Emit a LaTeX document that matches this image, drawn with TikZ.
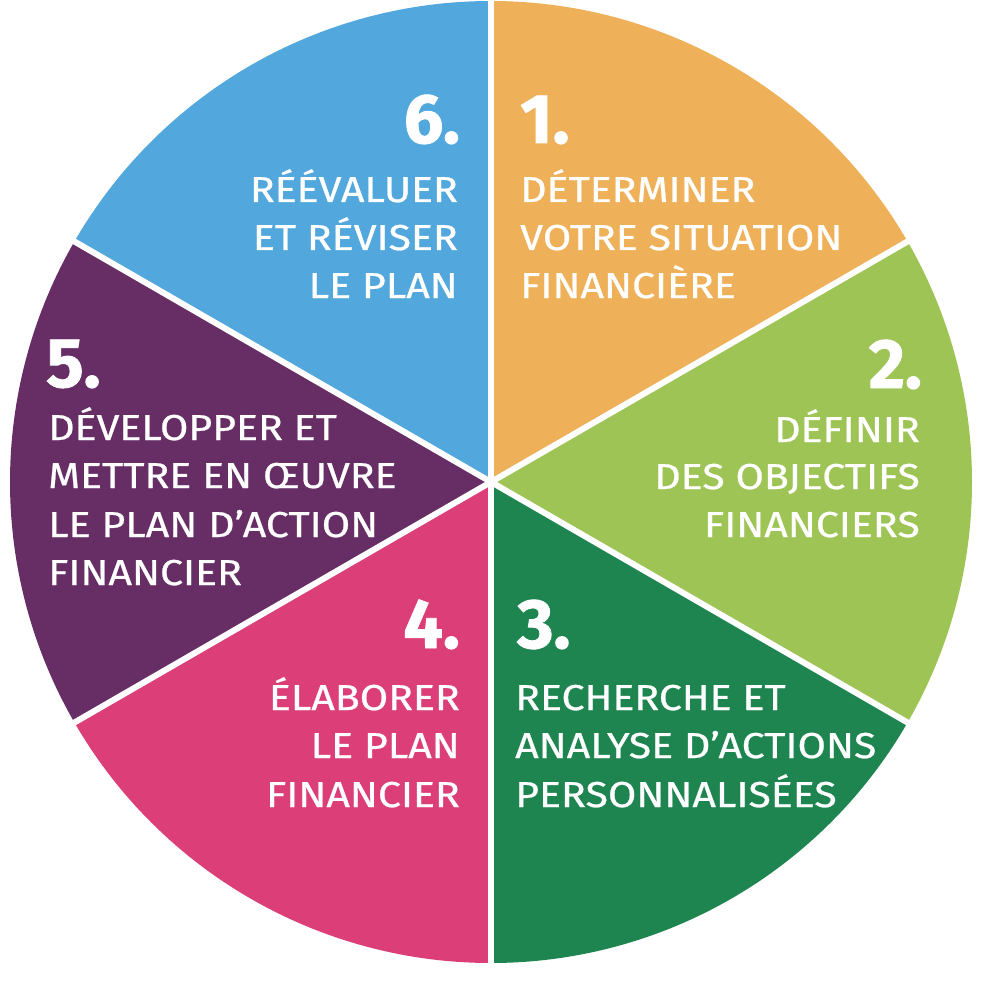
\documentclass[tikz,border=0pt]{standalone}
\usepackage{fontspec}
\setmainfont{Fira Sans}
\newfontfamily\labfont{Fira Sans}[FakeStretch=1.14,FakeBold=0.7]
\newfontfamily\numfont{Fira Sans}[FakeBold=1.2]
\definecolor{cOrange}{HTML}{EEB058}
\definecolor{cLime}{HTML}{9DC455}
\definecolor{cDGreen}{HTML}{1E8550}
\definecolor{cPink}{HTML}{DC3F78}
\definecolor{cPurple}{HTML}{672D65}
\definecolor{cBlue}{HTML}{52A7DD}
\begin{document}
\begin{tikzpicture}[x=1pt,y=-1pt,
  lab/.style={text=white,inner sep=0pt,font=\labfont\fontsize{36}{48}\selectfont},
  num/.style={text=white,inner sep=0pt,font=\numfont\fontsize{70}{70}\selectfont\bfseries},
  gap/.style={white,line width=6pt}]
\useasboundingbox (0,0) rectangle (987,1000);
\coordinate (c) at (491,482);
\def\R{481}
\fill[cOrange] (c) -- ++(-90:\R) arc[start angle=-90,end angle=-30,radius=\R] -- cycle;
\fill[cLime] (c) -- ++(-30:\R) arc[start angle=-30,end angle=30,radius=\R] -- cycle;
\fill[cDGreen] (c) -- ++(30:\R) arc[start angle=30,end angle=90,radius=\R] -- cycle;
\fill[cPink] (c) -- ++(90:\R) arc[start angle=90,end angle=150,radius=\R] -- cycle;
\fill[cPurple] (c) -- ++(150:\R) arc[start angle=150,end angle=210,radius=\R] -- cycle;
\fill[cBlue] (c) -- ++(210:\R) arc[start angle=210,end angle=270,radius=\R] -- cycle;
\foreach \a in {-90,-30,30,90,150,210}
  \draw[gap] (c) -- ++(\a:\R+4);
% sector 1
\node[num,anchor=base west] (n1) at (520,143) {1.};
\node[lab,anchor=base west] (t1a) at (520,202) {DÉTERMINER};
\node[lab,anchor=base west] (t1b) at (520,250) {VOTRE SITUATION};
\node[lab,anchor=base west] (t1c) at (520,298) {FINANCIÈRE};
% sector 6
\node[num,anchor=base east] (n6) at (460,143) {6.};
\node[lab,anchor=base east] (t6a) at (458,202) {RÉÉVALUER};
\node[lab,anchor=base east] (t6b) at (458,250) {ET RÉVISER};
\node[lab,anchor=base east] (t6c) at (458,298) {LE PLAN};
% sector 2
\node[num,anchor=base east] (n2) at (922,388) {2.};
\node[lab,anchor=base east] (t2a) at (920,442) {DÉFINIR};
\node[lab,anchor=base east] (t2b) at (920,489) {DES OBJECTIFS};
\node[lab,anchor=base east] (t2c) at (920,537) {FINANCIERS};
% sector 5
\node[num,anchor=base west] (n5) at (46,387) {5.};
\node[lab,anchor=base west] (t5a) at (48,440) {DÉVELOPPER ET};
\node[lab,anchor=base west] (t5b) at (48,488) {METTRE EN ŒUVRE};
\node[lab,anchor=base west] (t5c) at (48,537) {LE PLAN D’ACTION};
\node[lab,anchor=base west] (t5d) at (48,585) {FINANCIER};
% sector 3
\node[num,anchor=base west] (n3) at (517,648) {3.};
\node[lab,anchor=base west] (t3a) at (515,710) {RECHERCHE ET};
\node[lab,anchor=base west] (t3b) at (515,758) {ANALYSE D’ACTIONS};
\node[lab,anchor=base west] (t3c) at (515,807) {PERSONNALISÉES};
% sector 4
\node[num,anchor=base east] (n4) at (460,648) {4.};
\node[lab,anchor=base east] (t4a) at (460,710) {ÉLABORER};
\node[lab,anchor=base east] (t4b) at (460,758) {LE PLAN};
\node[lab,anchor=base east] (t4c) at (460,807) {FINANCIER};
\end{tikzpicture}
\end{document}
